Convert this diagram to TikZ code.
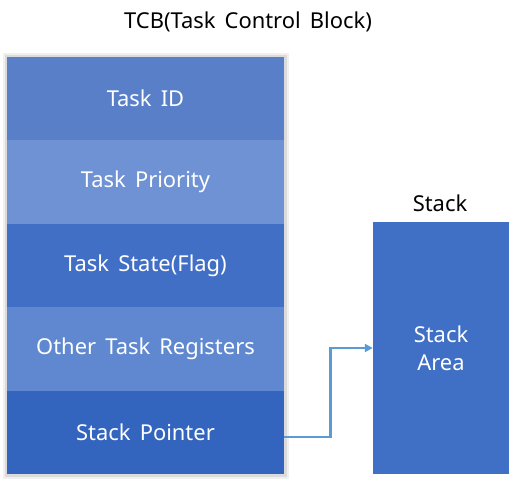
\documentclass[tikz,border=0pt]{standalone}
\usepackage{fontspec}
\setmainfont{Noto Sans}[WordSpace=1.6]
\usepackage{tikz}
\usetikzlibrary{arrows.meta}

\definecolor{rowid}{HTML}{5A7FC9}
\definecolor{rowprio}{HTML}{6F92D4}
\definecolor{rowstate}{HTML}{426FC6}
\definecolor{rowother}{HTML}{6088D0}
\definecolor{rowsp}{HTML}{3465BE}
\definecolor{stackblue}{HTML}{4070C6}
\definecolor{linkblue}{HTML}{5B9BD5}

\begin{document}
\begin{tikzpicture}[x=1bp, y=-1bp,
	every node/.style={inner sep=0pt, font=\fontsize{22}{28}\selectfont},
	row/.style={rectangle, minimum width=277bp, minimum height=83.6bp, text=white},
	link/.style={draw=linkblue, line width=2.8bp, -{Triangle[length=8bp, width=8bp]}}]
			\useasboundingbox (0,0) rectangle (510,484);
			
			% shadow of the block
			\fill[gray!12] (3,53) rectangle (289,479);
			\fill[gray!28] (5,55) rectangle (287,477);
			
			\node (title) at (248,22){TCB(Task Control Block)};
			\node[row, fill=rowid] (id) at (145.5,98.5){Task ID};
			\node[row, fill=rowprio] (prio) at (145.5,182){Task Priority};
			\node[row, fill=rowstate] (state) at (145.5,265.5){Task State(Flag)};
			\node[row, fill=rowother] (other) at (145.5,349){Other Task Registers};
			\node[row, fill=rowsp] (sp) at (145.5,432.5){Stack Pointer};
			
			\node (stack) at (440,203){Stack};
			\node[rectangle, fill=stackblue, text=white, minimum width=136bp, minimum height=252bp, align=center] (area) at (441,348){Stack\\Area};
			
			\draw[link] ([yshift=-4.5bp]sp.east) -- ++(46,0) |- (area.west);
			\end{tikzpicture}
\end{document}
